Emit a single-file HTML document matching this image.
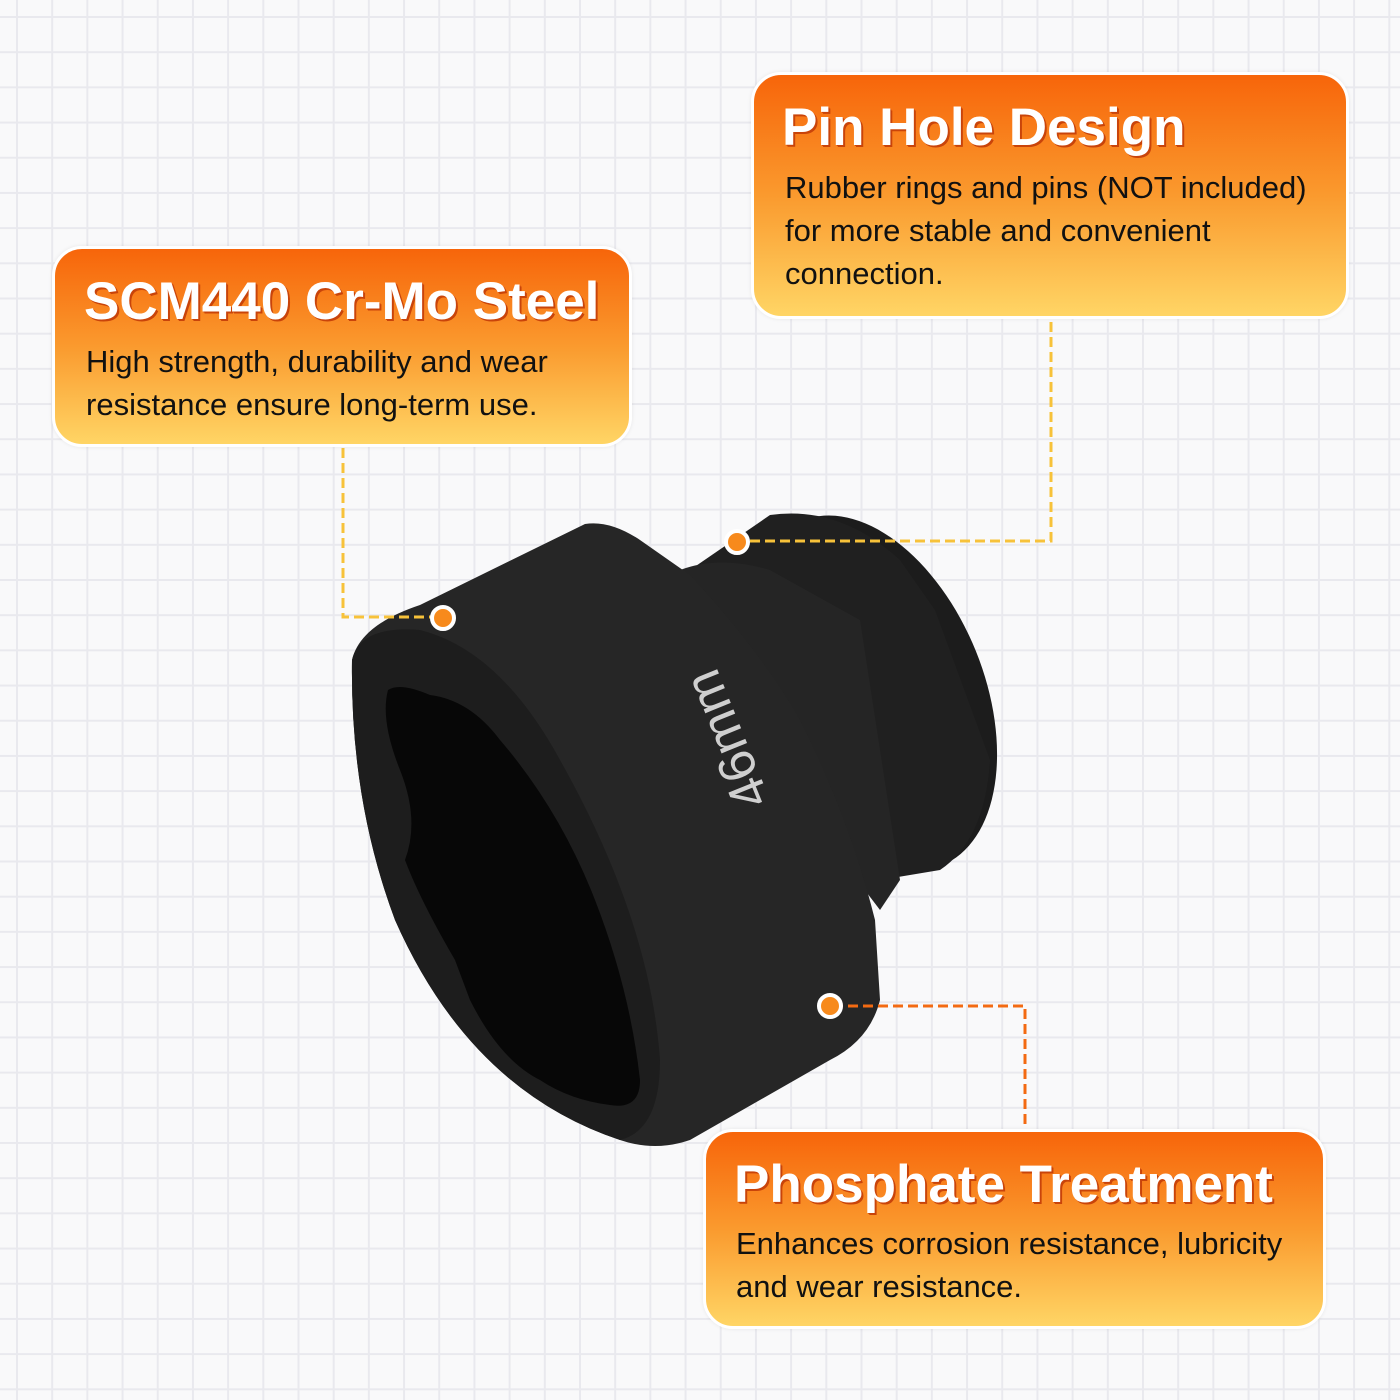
<!DOCTYPE html>
<html><head><meta charset="utf-8"><style>
html,body{margin:0;padding:0}
body{width:1400px;height:1400px;position:relative;overflow:hidden;background-color:#f9f9fa;
background-image:linear-gradient(#e9e9ee 2px,transparent 2px),linear-gradient(90deg,#e9e9ee 2px,transparent 2px);
background-size:35.2px 35.2px;background-position:16px 16px;font-family:"Liberation Sans",sans-serif}
.box{position:absolute;border:3px solid #fff;border-radius:30px;background:linear-gradient(#f7650a 0%,#fa9a2e 50%,#ffd565 100%);box-shadow:0 0 4px rgba(0,0,0,.08);box-sizing:border-box}
.t{position:absolute;color:#fff;font-weight:bold;font-size:53px;white-space:nowrap;text-shadow:2px 2px 0 #c9440a,1px 1px 0 #c9440a}
.b{position:absolute;color:#111;font-size:31px;line-height:43px;white-space:nowrap}
svg{position:absolute;left:0;top:0}
</style></head><body>
<svg width="1400" height="1400" viewBox="0 0 1400 1400">
<ellipse cx="872" cy="693" rx="112" ry="186" transform="rotate(-22 872 693)" fill="#1c1c1c"/>
<path d="M690 570 L770 515 Q840 505 900 560 L935 610 L990 760 Q985 840 940 870 L880 880 L820 840 Z" fill="#202020"/>
<path d="M680 570 Q720 555 770 570 L860 620 L900 880 L880 910 L720 700 Z" fill="#252525"/>
<path d="M352 660 Q360 625 420 605 L585 524 Q610 520 640 540 L690 575 Q760 650 800 720 Q850 820 875 920 L880 1000 Q870 1040 830 1060 L690 1140 Q655 1152 620 1140 Q470 1090 395 920 Q350 800 352 660 Z" fill="#262626"/>
<path d="M352 660 Q360 625 420 630 Q500 650 560 760 Q650 920 660 1060 Q660 1130 620 1140 Q470 1090 395 920 Q350 800 352 660 Z" fill="#1d1d1d"/>
<path d="M388 690 Q400 682 430 695 Q470 700 500 740 Q560 810 595 900 Q630 990 640 1080 Q640 1110 610 1105 Q570 1100 540 1080 Q500 1060 470 1000 L455 960 Q420 900 405 860 Q420 820 400 770 Q380 720 388 690 Z" fill="#070707"/>
<text x="0" y="0" transform="translate(770 800) rotate(-112)" fill="#cfcfcf" font-size="52" font-family="Liberation Sans,sans-serif">46mm</text>
<g fill="none" stroke-width="3" stroke-dasharray="10 5">
<path d="M343 448 V617 H440" stroke="#f7c23a"/>
<path d="M1051 322 V541 H740" stroke="#f7c23a"/>
<path d="M833 1006 H1025 V1128" stroke="#f36a12"/>
</g>
<g stroke="#fff" stroke-width="4">
<circle cx="443" cy="618" r="11" fill="#f78a1c"/>
<circle cx="737" cy="542" r="11" fill="#f78a1c"/>
<circle cx="830" cy="1006" r="11" fill="#f78a1c"/>
</g>
</svg>
<div class="box" style="left:52px;top:246px;width:580px;height:201px"></div>
<div class="t" style="left:84px;top:271px">SCM440 Cr-Mo Steel</div>
<div class="b" style="left:86px;top:340px">High strength, durability and wear<br>resistance ensure long-term use.</div>

<div class="box" style="left:751px;top:72px;width:598px;height:247px"></div>
<div class="t" style="left:782px;top:97px">Pin Hole Design</div>
<div class="b" style="left:785px;top:166px">Rubber rings and pins (NOT included)<br>for more stable and convenient<br>connection.</div>

<div class="box" style="left:703px;top:1129px;width:623px;height:200px"></div>
<div class="t" style="left:734px;top:1154px">Phosphate Treatment</div>
<div class="b" style="left:736px;top:1222px">Enhances corrosion resistance, lubricity<br>and wear resistance.</div>
</body></html>
